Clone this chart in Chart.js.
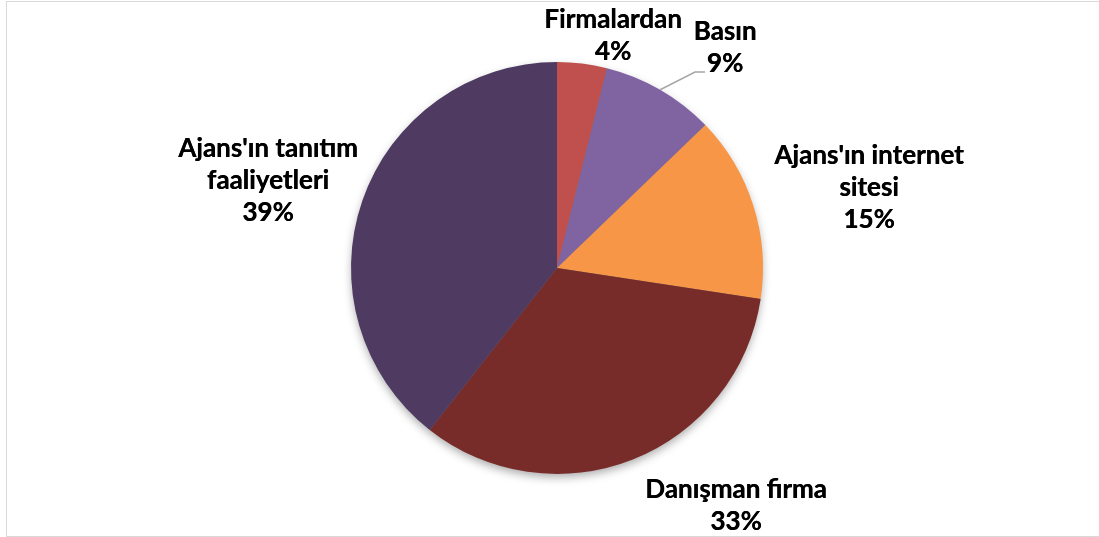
<!DOCTYPE html>
<html>
<head>
<meta charset="utf-8">
<script src="https://cdn.jsdelivr.net/npm/chart.js@4.4.1/dist/chart.umd.min.js"></script>
<style>
  html, body { margin: 0; padding: 0; background: #fff; }
  .frame {
    position: absolute; left: 6px; top: 1px; width: 1100px; height: 534px;
    border-left: 1px solid #d9d9d9; border-top: 1px solid #d9d9d9; border-bottom: 1px solid #d9d9d9;
  }
  .chart-container { position: absolute; left: 0; top: 0; width: 1099px; height: 537px; }
</style>
</head>
<body>
<div class="frame"></div>
<div class="chart-container"><canvas id="myChart"></canvas></div>
<script>
const categories = [
  ["Firmalardan"],
  ["Basın"],
  ["Ajans'ın internet", "sitesi"],
  ["Danışman firma"],
  ["Ajans'ın tanıtım", "faaliyetleri"],
];
const shares = [3.9, 8.9, 14.6, 33.2, 39.4];
const colors = ["#C0504D", "#8064A2", "#F79646", "#772C2A", "#4F3B62"];

// label centre offsets from pie centre (px), plus optional leader line
const labelSpots = [
  { dx: 56, dy: -232 },
  { dx: 168, dy: -220, leader: true },
  { dx: 312, dy: -80 },
  { dx: 179, dy: 238 },
  { dx: -289, dy: -87 },
];

const pieShadow = {
  id: "pieShadow",
  beforeDatasetsDraw(chart) {
    const arc = chart.getDatasetMeta(0).data[0];
    const ctx = chart.ctx;
    ctx.save();
    ctx.shadowColor = "rgba(0,0,0,0.35)";
    ctx.shadowBlur = 10;
    ctx.shadowOffsetY = 4;
    ctx.beginPath();
    ctx.arc(arc.x, arc.y, arc.outerRadius - 1, 0, Math.PI * 2);
    ctx.fillStyle = "#777";
    ctx.fill();
    ctx.restore();
  },
};

const sliceLabels = {
  id: "sliceLabels",
  afterDatasetsDraw(chart) {
    const ctx = chart.ctx;
    const meta = chart.getDatasetMeta(0);
    const cx = meta.data[0].x;
    const cy = meta.data[0].y;
    const lineH = 32;
    ctx.save();
    ctx.font = "bold 26px Lato, 'Open Sans', sans-serif";
    ctx.fillStyle = "#000";
    ctx.textAlign = "center";
    ctx.textBaseline = "middle";
    categories.forEach((lines, i) => {
      const spot = labelSpots[i];
      const all = [...lines, Math.round(shares[i]) + "%"];
      const x = cx + spot.dx;
      const y0 = cy + spot.dy - ((all.length - 1) * lineH) / 2;
      all.forEach((t, k) => {
        ctx.fillText(t, x, y0 + k * lineH);
        ctx.fillText(t, x + 0.4, y0 + k * lineH);
      });
      if (spot.leader) {
        const arc = meta.data[i];
        const mid = (arc.startAngle + arc.endAngle) / 2;
        const ax = cx + Math.cos(mid) * arc.outerRadius;
        const ay = cy + Math.sin(mid) * arc.outerRadius;
        ctx.beginPath();
        ctx.strokeStyle = "#a6a6a6";
        ctx.lineWidth = 1.5;
        ctx.moveTo(ax, ay);
        ctx.lineTo(x - 30, cy + spot.dy + 24);
        ctx.lineTo(x - 20, cy + spot.dy + 24);
        ctx.stroke();
      }
    });
    ctx.restore();
  },
};

const ctx = document.getElementById("myChart").getContext("2d");
new Chart(ctx, {
  type: "pie",
  data: {
    labels: categories.map((c) => c.join(" ")),
    datasets: [
      {
        data: shares,
        backgroundColor: colors,
        borderWidth: 0,
      },
    ],
  },
  options: {
    responsive: true,
    maintainAspectRatio: false,
    animation: false,
    layout: { padding: { left: 351, right: 336, top: 62, bottom: 63 } },
    plugins: {
      legend: { display: false },
      tooltip: { enabled: false },
    },
  },
  plugins: [pieShadow, sliceLabels],
});
</script>
</body>
</html>
